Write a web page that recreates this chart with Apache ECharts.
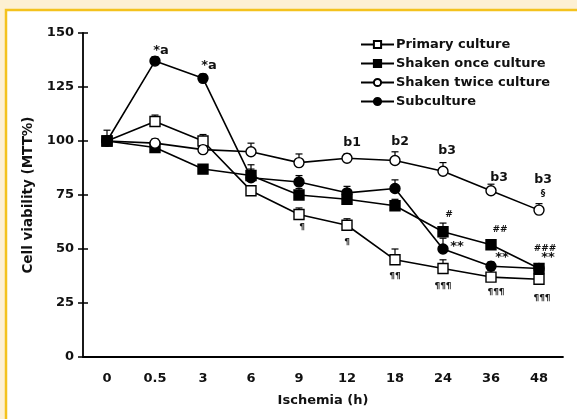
<!DOCTYPE html>
<html>
<head>
<meta charset="utf-8">
<script src="https://cdn.jsdelivr.net/npm/echarts@6/dist/echarts.min.js"></script>
<style>
  html, body { margin: 0; padding: 0; background: #fdf0d3; }
  #chart { width: 577px; height: 419px; }
</style>
</head>
<body>
<div id="chart"></div>
<script>
// ischemia time points (h)
var hours = ['0', '0.5', '3', '6', '9', '12', '18', '24', '36', '48'];

// cell viability MTT%, mean and upper error
var primary = [100, 109, 100, 77, 66, 61, 45, 41, 37, 36];
var primaryErr = [5, 3, 3, 2, 3, 3, 5, 4, 3, 2];
var shakenOnce = [100, 97, 87, 84, 75, 73, 70, 58, 52, 41];
var shakenOnceErr = [2, 1, 2, 5, 3, 3, 3, 4, 2, 2];
var shakenTwice = [100, 99, 96, 95, 90, 92, 91, 86, 77, 68];
var shakenTwiceErr = [2, 2, 2, 4, 4, 2, 4, 4, 3, 3];
var subculture = [100, 137, 129, 83, 81, 76, 78, 50, 42, 41];
var subcultureErr = [2, 2, 2, 4, 3, 3, 4, 5, 2, 2];

var yTicks = [0, 25, 50, 75, 100, 125, 150];

// significance marks: [hour, value, text]
var marks = [
	['0.5', 142, '*a'], ['3', 135, '*a'],
	['12', 99, 'b1'], ['18', 99.5, 'b2'], ['24', 95.5, 'b3'], ['36', 83, 'b3'], ['48', 82, 'b3'], ['48', 75.5, '§'],
	['9', 60, '¶'], ['12', 53, '¶'], ['18', 37, '¶¶'], ['24', 32.5, '¶¶¶'], ['36', 30, '¶¶¶'], ['48', 27, '¶¶¶'],
	['24', 66, '#'], ['36', 59, '##'], ['48', 50, '###'],
	['24', 51, '**'], ['36', 46, '**'], ['48', 46, '**']
];
var markShift = [6, 6, 5, 5, 4, 8, 4, 4, 3, 0, 0, 0, 5, 3, 6, 9, 6, 14, 11, 9];

var FONT = 'DejaVu Sans';

function errSeries(vals, errs) {
	return {
		type: 'custom',
		z: 1,
		silent: true,
		data: vals.map(function(v, i) { return [i, v, v + errs[i]]; }),
		renderItem: function(params, api) {
			var lo = api.coord([api.value(0), api.value(1)]);
			var hi = api.coord([api.value(0), api.value(2)]);
			var style = { stroke: '#000', lineWidth: 1.2 };
			return {
				type: 'group',
				children: [
					{ type: 'line', shape: { x1: lo[0], y1: lo[1], x2: hi[0], y2: hi[1] }, style: style },
					{ type: 'line', shape: { x1: hi[0] - 3.5, y1: hi[1], x2: hi[0] + 3.5, y2: hi[1] }, style: style }
				]
			};
		}
	};
}

function lineSeries(name, vals, symbol, filled) {
	return {
		name: name,
		type: 'line',
		z: 3,
		data: vals,
		symbol: symbol,
		symbolSize: 10,
		showAllSymbol: true,
		lineStyle: { color: '#000', width: 1.6 },
		itemStyle: { color: filled ? '#000' : '#fff', borderColor: '#000', borderWidth: 1.4 },
		emphasis: { disabled: true }
	};
}

var chart = echarts.init(document.getElementById('chart'));

chart.setOption({
	animation: false,
	textStyle: { fontFamily: FONT },
	graphic: [{
		type: 'rect',
		z: -10,
		shape: { x: 6, y: 10, width: 580, height: 420 },
		style: { fill: '#fff', stroke: '#f4c21d', lineWidth: 2.5 }
	}],
	grid: { left: 83, top: 33, right: 14, bottom: 62 },
	legend: {
		orient: 'vertical',
		left: 355,
		top: 33,
		itemWidth: 33,
		itemHeight: 9,
		itemGap: 6,
		data: ['Primary culture', 'Shaken once culture', 'Shaken twice culture', 'Subculture'],
		textStyle: { fontFamily: FONT, fontWeight: 'bold', fontSize: 13, lineHeight: 13, color: '#111', padding: [0, 0, 0, -3] }
	},
	xAxis: [{
		type: 'category',
		data: hours,
		boundaryGap: true,
		name: 'Ischemia (h)',
		nameLocation: 'middle',
		nameGap: 37,
		nameTextStyle: { fontFamily: FONT, fontWeight: 'bold', fontSize: 13, color: '#111' },
		axisLine: { lineStyle: { color: '#000', width: 1.8 } },
		axisTick: { length: 6, lineStyle: { color: '#000', width: 1.5 } },
		axisLabel: { fontFamily: FONT, fontWeight: 'bold', fontSize: 13, color: '#111', margin: 15 }
	}, {
		type: 'category',
		data: hours,
		position: 'bottom',
		boundaryGap: true,
		axisLine: { show: false },
		axisTick: { inside: true, length: 5, lineStyle: { color: '#000', width: 1.5 } },
		axisLabel: { show: false }
	}],
	yAxis: [{
		type: 'value',
		min: yTicks[0],
		max: yTicks[yTicks.length - 1],
		interval: 25,
		name: 'Cell viability (MTT%)',
		nameLocation: 'middle',
		nameGap: 48,
		nameTextStyle: { fontFamily: FONT, fontWeight: 'bold', fontSize: 13.5, color: '#111' },
		splitLine: { show: false },
		axisLine: { show: true, lineStyle: { color: '#000', width: 1.8 } },
		axisTick: { show: true, length: 5, lineStyle: { color: '#000', width: 1.5 } },
		axisLabel: { fontFamily: FONT, fontWeight: 'bold', fontSize: 13, color: '#111', margin: 9 }
	}, {
		type: 'value',
		position: 'left',
		min: yTicks[0],
		max: yTicks[yTicks.length - 1],
		interval: 25,
		splitLine: { show: false },
		axisLine: { show: false },
		axisTick: { show: true, inside: true, length: 5, lineStyle: { color: '#000', width: 1.5 } },
		axisLabel: { show: false }
	}],
	series: [
		errSeries(primary, primaryErr),
		errSeries(shakenOnce, shakenOnceErr),
		errSeries(shakenTwice, shakenTwiceErr),
		errSeries(subculture, subcultureErr),
		lineSeries('Primary culture', primary, 'rect', false),
		lineSeries('Shaken once culture', shakenOnce, 'rect', true),
		lineSeries('Shaken twice culture', shakenTwice, 'circle', false),
		lineSeries('Subculture', subculture, 'circle', true),
		{
			type: 'scatter',
			z: 4,
			silent: true,
			symbolSize: 0,
			itemStyle: { opacity: 1 },
			data: marks.map(function(m, i) {
				var t = m[2];
				var small = t.charAt(0) === '¶' || t.charAt(0) === '#' || t === '§';
				return {
					value: [m[0], m[1]],
					label: {
						show: true,
						position: 'inside',
						offset: [markShift[i], 0],
						formatter: t,
						fontFamily: FONT,
						fontWeight: 'bold',
						fontSize: small ? 9 : (t.charAt(0) === '*' ? 13 : 12.5),
						color: '#111'
					}
				};
			})
		}
	]
});
</script>
</body>
</html>
